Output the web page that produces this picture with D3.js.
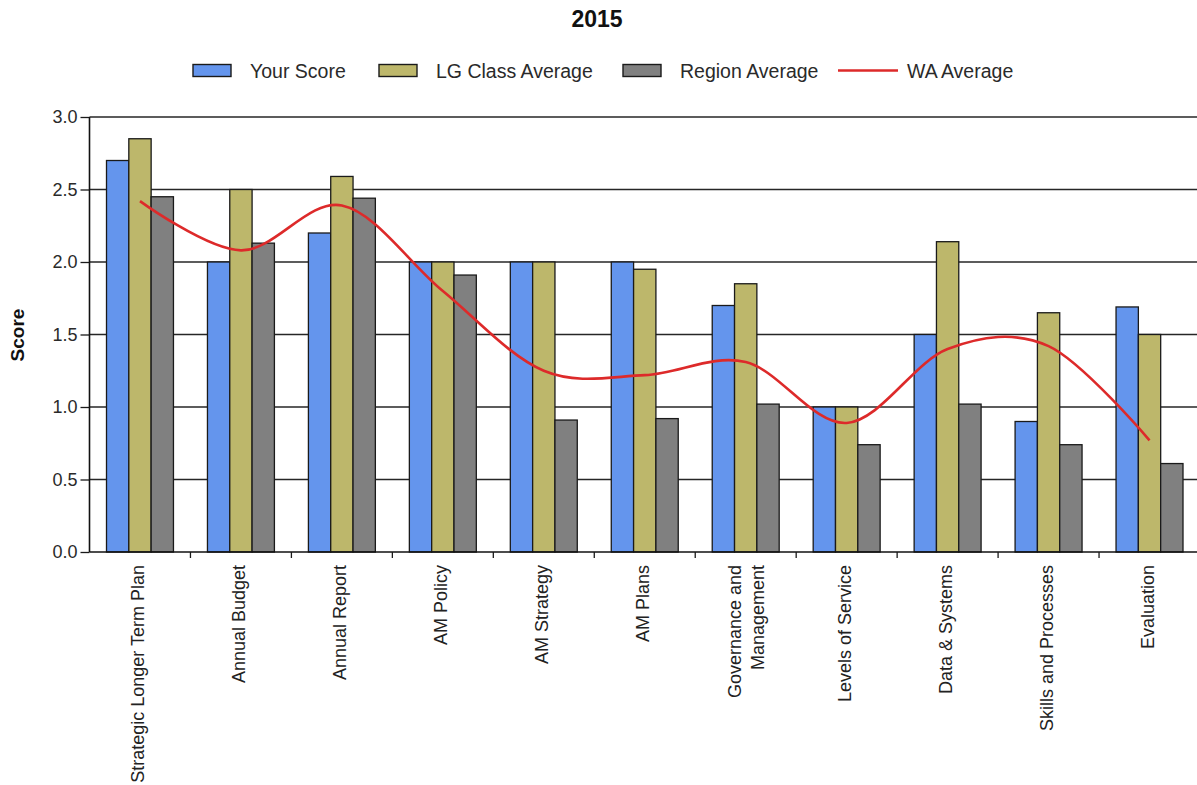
<!DOCTYPE html>
<html>
<head>
<meta charset="utf-8">
<script src="https://cdn.jsdelivr.net/npm/d3@7"></script>
<style>
  body { margin: 0; background: #fff; }
  svg { display: block; }
  text { font-family: "Liberation Sans", Arial, sans-serif; }
</style>
</head>
<body>
<svg id="chart" width="1197" height="785"></svg>
<script>
// Asset-management self-assessment scores, 2015
const categories = [
  "Strategic Longer Term Plan", "Annual Budget", "Annual Report", "AM Policy",
  "AM Strategy", "AM Plans", "Governance and\nManagement", "Levels of Service",
  "Data & Systems", "Skills and Processes", "Evaluation"
];
const seriesNames = ["Your Score", "LG Class Average", "Region Average"];
const yourScore      = [2.70, 2.00, 2.20, 2.00, 2.00, 2.00, 1.70, 1.00, 1.50, 0.90, 1.69];
const lgClassAverage = [2.85, 2.50, 2.59, 2.00, 2.00, 1.95, 1.85, 1.00, 2.14, 1.65, 1.50];
const regionAverage  = [2.45, 2.13, 2.44, 1.91, 0.91, 0.92, 1.02, 0.74, 1.02, 0.74, 0.61];
const waAverage      = [2.42, 2.08, 2.39, 1.80, 1.25, 1.22, 1.31, 0.89, 1.40, 1.42, 0.77];
const lineName = "WA Average";
const yTicks = [0, 0.5, 1.0, 1.5, 2.0, 2.5, 3.0];
const chartTitle = "2015";
const yTitle = "Score";

const colors = { "Your Score": "#6495ed", "LG Class Average": "#bdb76b", "Region Average": "#808080" };
const lineColor = "#dd2a2a";

const svg = d3.select("#chart");
const plotLeft = 89.5, plotRight = 1200, plotTop = 117, plotBottom = 552;

const x = d3.scaleBand().domain(categories).range([plotLeft, plotRight]);
const x1 = d3.scaleBand().domain(seriesNames).range([17, x.bandwidth() - 17]);
const y = d3.scaleLinear().domain([0, 3]).range([plotBottom, plotTop]);

// horizontal gridlines
svg.append("g").selectAll("line").data(yTicks.filter(d => d > 0)).join("line")
  .attr("x1", plotLeft).attr("x2", 1197)
  .attr("y1", d => y(d)).attr("y2", d => y(d))
  .attr("stroke", "#262626").attr("stroke-width", 1.5);

// grouped bars
const table = categories.map((c, i) => ({
  cat: c,
  values: [
    { key: "Your Score", v: yourScore[i] },
    { key: "LG Class Average", v: lgClassAverage[i] },
    { key: "Region Average", v: regionAverage[i] }
  ]
}));
svg.append("g").selectAll("g").data(table).join("g")
  .attr("transform", d => `translate(${x(d.cat)},0)`)
  .selectAll("rect").data(d => d.values).join("rect")
  .attr("x", d => x1(d.key))
  .attr("width", x1.bandwidth())
  .attr("y", d => y(d.v))
  .attr("height", d => y(0) - y(d.v))
  .attr("fill", d => colors[d.key])
  .attr("stroke", "#1a1a1a").attr("stroke-width", 1.3);

// smoothed WA average line
const line = d3.line()
  .x((d, i) => x(categories[i]) + x.bandwidth() / 2)
  .y(d => y(d))
  .curve(d3.curveCardinal.tension(0));
svg.append("path").datum(waAverage)
  .attr("d", line)
  .attr("fill", "none").attr("stroke", lineColor).attr("stroke-width", 2.6);

// y axis
const yAxis = d3.axisLeft(y).tickValues(yTicks).tickFormat(d3.format(".1f"))
  .tickSize(9).tickPadding(3);
const gy = svg.append("g").attr("transform", `translate(${plotLeft},0)`).call(yAxis);
gy.select(".domain").remove();
gy.selectAll(".tick line").attr("stroke", "#1a1a1a").attr("stroke-width", 1.3);
gy.selectAll(".tick text").attr("font-size", 18).attr("fill", "#2a2a2a")
  .attr("font-family", "'Liberation Sans', Arial, sans-serif");
svg.append("line").attr("x1", plotLeft).attr("x2", plotLeft).attr("y1", plotTop).attr("y2", plotBottom)
  .attr("stroke", "#111").attr("stroke-width", 1.6);

// x axis baseline and boundary ticks
svg.append("line").attr("x1", plotLeft).attr("x2", 1197).attr("y1", plotBottom).attr("y2", plotBottom)
  .attr("stroke", "#111").attr("stroke-width", 1.6);
svg.append("g").selectAll("line").data(categories.slice(1)).join("line")
  .attr("x1", d => x(d)).attr("x2", d => x(d))
  .attr("y1", plotBottom).attr("y2", plotBottom + 6)
  .attr("stroke", "#1a1a1a").attr("stroke-width", 1.3);

// rotated category labels
const lineH = 23;
const labels = svg.append("g").selectAll("text").data(categories).join("text")
  .attr("transform", d => `translate(${x(d) + x.bandwidth() / 2},565) rotate(-90)`)
  .attr("text-anchor", "end")
  .attr("font-size", 18).attr("fill", "#222");
labels.each(function(d) {
  const parts = d.split("\n");
  const t = d3.select(this);
  parts.forEach((p, i) => {
    t.append("tspan").attr("x", 0)
      .attr("y", 4.5 + (i - (parts.length - 1) / 2) * lineH + (parts.length > 1 ? 2 : 0))
      .text(p);
  });
});

// y axis title
svg.append("text")
  .attr("transform", "translate(17.5,335) rotate(-90)")
  .attr("text-anchor", "middle").attr("dy", "0.35em")
  .attr("font-size", 19).attr("font-weight", "bold").attr("fill", "#111")
  .text(yTitle);

// chart title
svg.append("text").attr("x", 597).attr("y", 27)
  .attr("text-anchor", "middle").attr("font-size", 23).attr("font-weight", "bold")
  .attr("fill", "#111").text(chartTitle);

// legend
const legendItems = [
  { name: "Your Score", type: "rect", x: 193 },
  { name: "LG Class Average", type: "rect", x: 379 },
  { name: "Region Average", type: "rect", x: 623 },
  { name: lineName, type: "line", x: 838 }
];
const lg = svg.append("g");
legendItems.forEach(it => {
  if (it.type === "rect") {
    lg.append("rect").attr("x", it.x).attr("y", 64.5).attr("width", 38).attr("height", 12)
      .attr("fill", colors[it.name]).attr("stroke", "#1a1a1a").attr("stroke-width", 1.4);
    lg.append("text").attr("x", it.x + 57).attr("y", 77.5)
      .attr("font-size", 19.5).attr("fill", "#2a2a2a").text(it.name);
  } else {
    lg.append("line").attr("x1", it.x).attr("x2", it.x + 60).attr("y1", 70.5).attr("y2", 70.5)
      .attr("stroke", lineColor).attr("stroke-width", 2.6);
    lg.append("text").attr("x", it.x + 69).attr("y", 77.5)
      .attr("font-size", 19.5).attr("fill", "#2a2a2a").text(it.name);
  }
});
</script>
</body>
</html>
